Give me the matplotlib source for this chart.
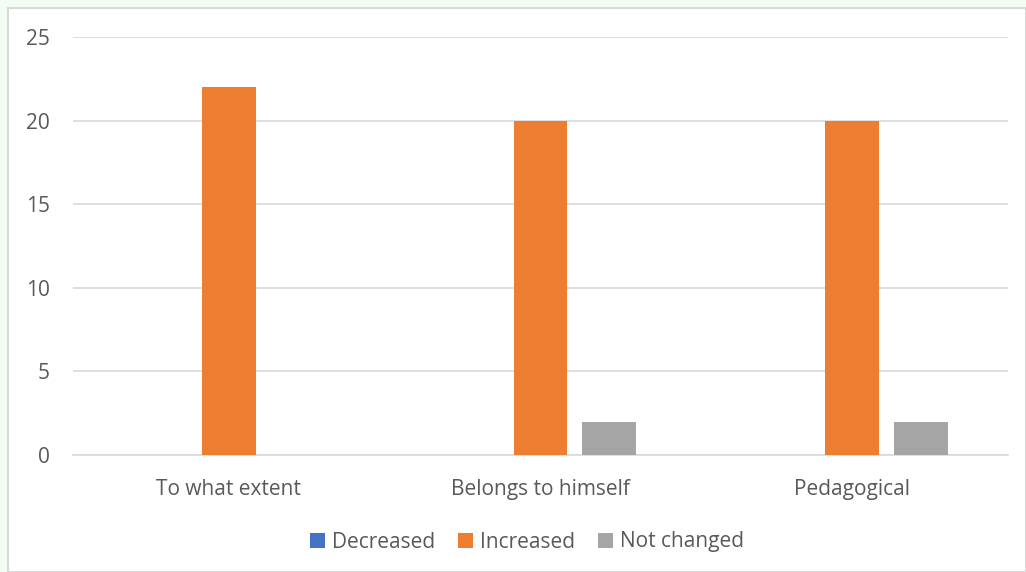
import numpy as np
import matplotlib
matplotlib.use('Agg')
from matplotlib import pyplot as plt
from matplotlib.patches import Rectangle

# données
categories = ['To what extent', 'Belongs to himself', 'Pedagogical']
series_names = ['Decreased', 'Increased', 'Not changed']
decreased = [0, 0, 0]
increased = [22, 20, 20]
not_changed = [0, 2, 2]
colors = ['#4472C4', '#ED7D31', '#A5A5A5']

plt.rcParams['font.family'] = ['Open Sans', 'DejaVu Sans']
txt_color = '#595959'

fig = plt.figure(figsize=(10.26, 5.72), dpi=100)
fig.patch.set_facecolor('#F3FCF3')
# cadre blanc du graphique
fig.patches.append(Rectangle((8 / 1026, 0), 1 - 8 / 1026, 1 - 8 / 572,
                             transform=fig.transFigure, facecolor='white',
                             edgecolor='#D9D9D9', linewidth=1.5, zorder=-10))

ax = fig.add_axes([73 / 1026, 1 - 455 / 572, (1008 - 73) / 1026, (455 - 37) / 572])
ax.set_facecolor('none')

x = np.arange(len(categories))
width = 0.173
offset = 0.221
for i, (vals, name) in enumerate(zip([decreased, increased, not_changed], series_names)):
    ax.bar(x + (i - 1) * offset, vals, width, color=colors[i], label=name, zorder=3)

ax.set_xlim(-0.5, len(categories) - 0.5)
ax.set_ylim(0, 25)
ax.set_yticks(np.arange(0, 26, 5))
ax.set_xticks(x)
ax.set_xticklabels(categories)
ax.grid(axis='y', color='#D9D9D9', linewidth=1.2, zorder=0)
for s in ['top', 'right', 'left']:
    ax.spines[s].set_visible(False)
ax.spines['bottom'].set_color('#D9D9D9')
ax.spines['bottom'].set_linewidth(1.2)
ax.tick_params(axis='both', length=0, colors=txt_color, labelsize=15)
ax.tick_params(axis='x', pad=17)
ax.tick_params(axis='y', pad=16.5)

leg = ax.legend(loc='center', bbox_to_anchor=((527 - 73) / 935, (455 - 542) / (455 - 37)),
                ncol=3, frameon=False, fontsize=15, handlelength=0.7,
                handleheight=0.7, handletextpad=0.35, columnspacing=1.1)
for t in leg.get_texts():
    t.set_color(txt_color)

plt.savefig('out.png', dpi=100, facecolor=fig.get_facecolor())
